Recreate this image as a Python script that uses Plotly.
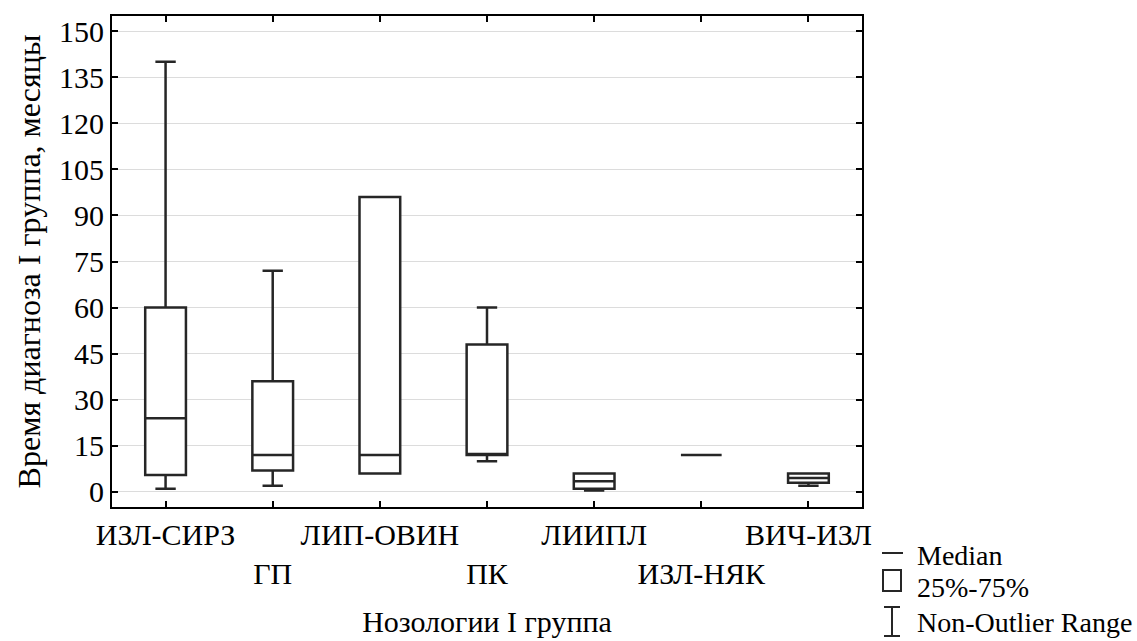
import plotly.graph_objects as go

# Diagnosis time (months) by nosology, group I
categories = ["ИЗЛ-СИРЗ", "ГП", "ЛИП-ОВИН", "ПК", "ЛИИПЛ", "ИЗЛ-НЯК", "ВИЧ-ИЗЛ"]
lower_fence = [1, 2, 6, 10, 0.5, 12, 2]
q1_values = [5.5, 7, 6, 12, 1, 12, 3]
median_values = [24, 12, 12, 12, 3.5, 12, 4.5]
q3_values = [60, 36, 96, 48, 6, 12, 6]
upper_fence = [140, 72, 96, 60, 6, 12, 6]
y_ticks = [0, 15, 30, 45, 60, 75, 90, 105, 120, 135, 150]

FONT = "Liberation Serif"
W, H = 1137, 641
ML, MR, MT, MB = 112, 275, 16, 134
PW, PH = W - ML - MR, H - MT - MB


def px_x(px):
    return (px - ML) / PW


def px_y(py):
    return (H - MB - py) / PH


fig = go.Figure()
fig.add_trace(go.Box(
    x=categories,
    q1=q1_values,
    median=median_values,
    q3=q3_values,
    lowerfence=lower_fence,
    upperfence=upper_fence,
    orientation="v",
    width=0.38,
    whiskerwidth=0.5,
    fillcolor="white",
    line=dict(color="#262626", width=2.5),
    boxpoints=False,
    showlegend=False,
    hoverinfo="skip",
))

# Alternate category labels are pushed to a second row
tick_text = [c if i % 2 == 0 else "<br>" + c for i, c in enumerate(categories)]

axis_common = dict(
    ticks="inside", ticklen=6, tickwidth=2, tickcolor="black",
    showline=True, linewidth=2, linecolor="black", mirror="ticks",
    tickfont=dict(family=FONT, size=30, color="black"),
    zeroline=False, automargin=False,
)

fig.update_layout(
    width=W, height=H,
    margin=dict(l=ML, r=MR, t=MT, b=MB),
    paper_bgcolor="white", plot_bgcolor="white",
    font=dict(family=FONT, color="black"),
    xaxis=dict(
        type="category", categoryorder="array", categoryarray=categories,
        range=[-0.5, len(categories) - 0.5],
        tickmode="array", tickvals=categories, ticktext=tick_text,
        tickangle=0,
        showgrid=False,
        title=dict(text="Нозологии I группа", font=dict(family=FONT, size=30, color="black"), standoff=22),
        **axis_common,
    ),
    yaxis=dict(
        range=[-4.9, 154.9],
        tickmode="array", tickvals=y_ticks,
        showgrid=True, gridcolor="#dcdcdc", gridwidth=1,
        title=dict(text="Время диагноза I группа, месяцы", font=dict(family=FONT, size=32, color="black"), standoff=9),
        **axis_common,
    ),
)

# Legend key drawn beside the plot
line_style = dict(color="#262626", width=2)
shapes = [
    dict(type="line", xref="paper", yref="paper", x0=px_x(882), x1=px_x(903), y0=px_y(553), y1=px_y(553), line=line_style),
    dict(type="rect", xref="paper", yref="paper", x0=px_x(883), x1=px_x(901), y0=px_y(570), y1=px_y(591), line=line_style, fillcolor="white"),
    dict(type="line", xref="paper", yref="paper", x0=px_x(892), x1=px_x(892), y0=px_y(607), y1=px_y(636), line=line_style),
    dict(type="line", xref="paper", yref="paper", x0=px_x(884), x1=px_x(900), y0=px_y(607), y1=px_y(607), line=line_style),
    dict(type="line", xref="paper", yref="paper", x0=px_x(884), x1=px_x(900), y0=px_y(636), y1=px_y(636), line=line_style),
]
legend_items = [("Median", 555), ("25%-75%", 587), ("Non-Outlier Range", 622)]
annotations = [
    dict(text=t, xref="paper", yref="paper", x=px_x(915), y=px_y(cy), xanchor="left", yanchor="middle",
         showarrow=False, font=dict(family=FONT, size=28, color="black"))
    for t, cy in legend_items
]
fig.update_layout(shapes=shapes, annotations=annotations)

fig.write_html("out.html")
